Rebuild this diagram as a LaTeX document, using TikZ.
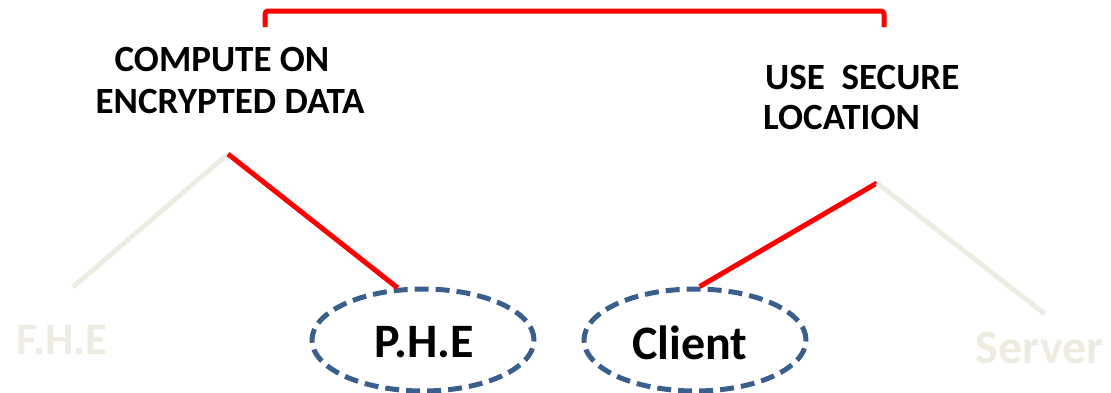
\documentclass[tikz,border=0pt]{standalone}
\usepackage{fontspec}
\setmainfont{Carlito}
\usetikzlibrary{shapes.geometric}
\definecolor{beige}{HTML}{EEECE1}
\definecolor{dblue}{HTML}{3A5F8D}
\definecolor{pred}{HTML}{FF0000}
\begin{document}
\begin{tikzpicture}[x=1pt,y=-1pt,
  toptext/.style={font=\fontsize{37}{42}\selectfont\bfseries, inner sep=0pt},
  bigtext/.style={font=\fontsize{48}{54}\selectfont\bfseries, inner sep=0pt},
  oval/.style={ellipse, draw=dblue, line width=5pt, dash pattern=on 14pt off 7pt,
    minimum width=222pt, minimum height=102pt, inner sep=0pt},
  redline/.style={draw=pred, line width=5pt},
  beigeline/.style={draw=beige, line width=5pt}]
\useasboundingbox (0,0) rectangle (1111,392);
% bracket
\coordinate (bl) at (265,27);
\coordinate (br) at (884,27);
\draw[redline, rounded corners=3pt] (bl) -- (265,11) -- (884,11) -- (br);
% top texts
\node[toptext, anchor=base] (t1a) at (222,71) {COMPUTE ON};
\node[toptext, anchor=base] (t1b) at (230,113) {ENCRYPTED DATA};
\node[toptext, anchor=base west] (t2a) at (765,89) {USE\ \ SECURE};
\node[toptext, anchor=base west] (t2b) at (763,129) {LOCATION};
% apexes
\coordinate (a1) at (228,154);
\coordinate (a2) at (877,183);
% ovals
\node[oval] (phe) at (423,340) {};
\node[bigtext, anchor=base] (phet) at (424,357) {P.H.E};
\node[oval] (client) at (695,340) {};
\node[bigtext, anchor=base] (clientt) at (690,359) {Client};
% faded leaves
\node[font=\fontsize{45}{50}\selectfont\bfseries, text=beige, inner sep=0pt, anchor=base west] (fhe) at (16,354) {F.H.E};
\node[bigtext, text=beige, anchor=base east] (server) at (1104,363) {Server};
\coordinate (fheend) at (73,287);
\coordinate (serverend) at (1045,314);
% connectors
\draw[beigeline] (fheend) -- (a1);
\draw[redline] (a1) -- (phe.116);
\draw[redline] (client.85) -- (a2);
\draw[beigeline] (a2) -- (serverend);
\end{tikzpicture}
\end{document}
